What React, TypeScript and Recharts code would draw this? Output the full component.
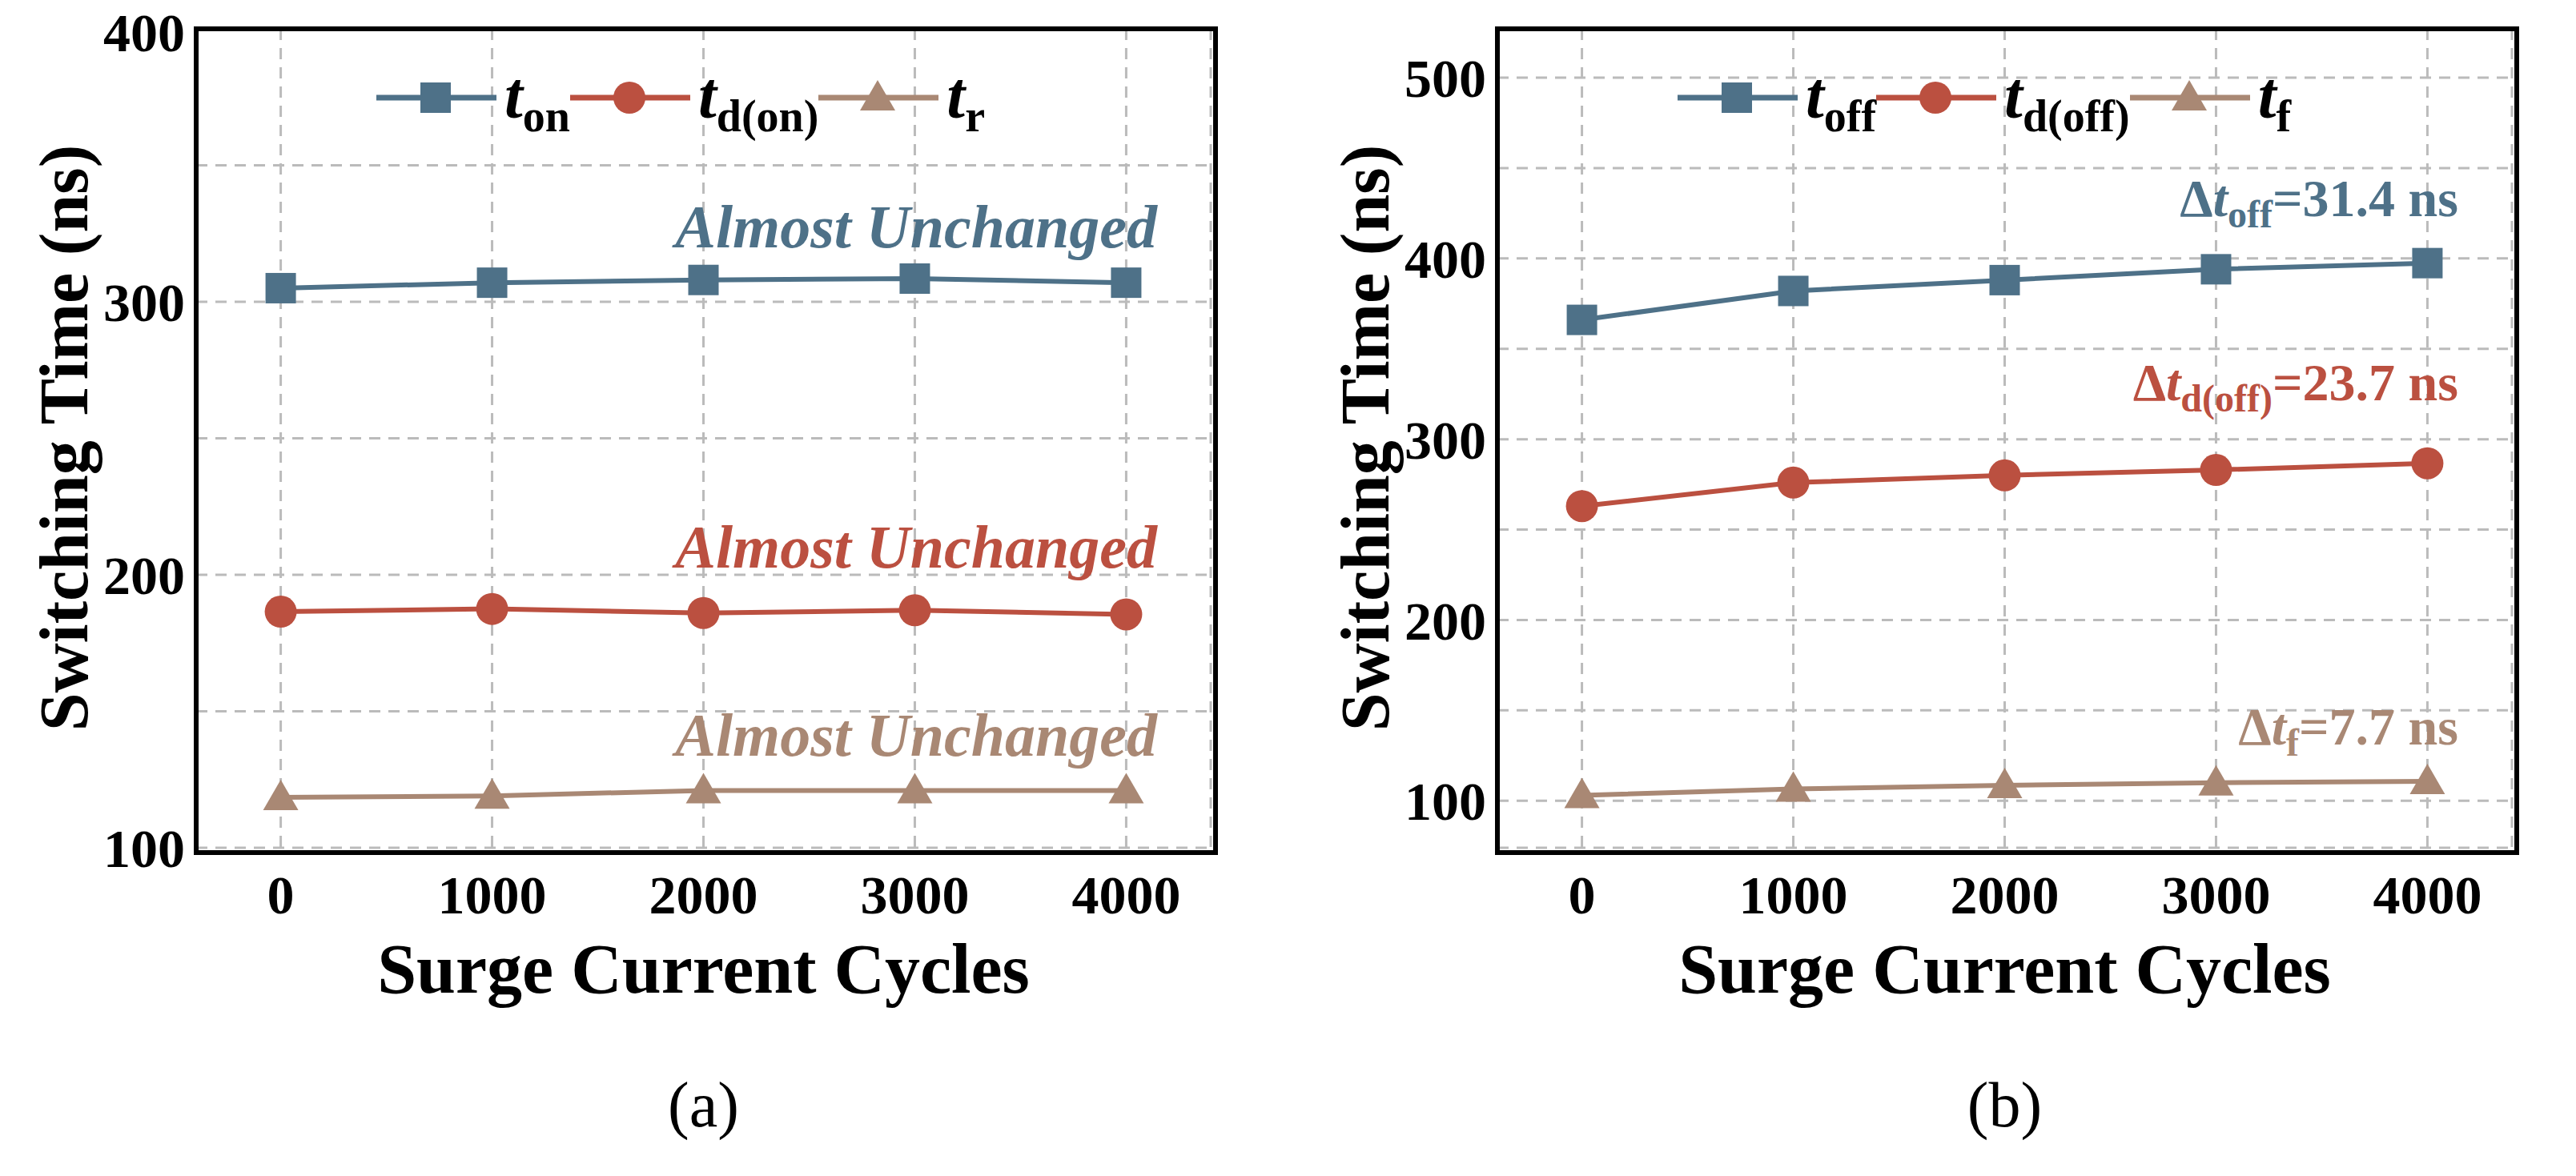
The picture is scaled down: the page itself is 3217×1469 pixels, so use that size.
import React from "react";
import { LineChart, Line, XAxis, YAxis, CartesianGrid } from "recharts";

const cycles = [0, 1000, 2000, 3000, 4000];
const tOn = [305, 307, 308, 308.5, 307];
const tdOn = [186.5, 187.5, 186, 187, 185.5];
const tR = [118.5, 119, 121, 121, 121];
const tOff = [366, 382, 388, 394, 397.4];
const tdOff = [263, 276, 280, 283, 286.7];
const tF = [103, 106.5, 108.5, 110, 110.7];
const leftTicks = [100, 150, 200, 250, 300, 350, 400];
const rightTicks = [100, 150, 200, 250, 300, 350, 400, 450, 500];

const BLUE = "#4e7188";
const RED = "#bb5040";
const TAN = "#a98874";
const FONT = "'Liberation Serif', 'Times New Roman', serif";

const rowsA = cycles.map((c, i) => ({ c, a: tOn[i], b: tdOn[i], d: tR[i] }));
const rowsB = cycles.map((c, i) => ({ c, a: tOff[i], b: tdOff[i], d: tF[i] }));

const Square = (p: any) => (
  <rect x={p.cx - 19} y={p.cy - 19} width={38} height={38} fill={BLUE} />
);
const Circle = (p: any) => <circle cx={p.cx} cy={p.cy} r={20} fill={RED} />;
const Tri = (p: any) => (
  <path d={`M${p.cx},${p.cy - 22} L${p.cx + 22},${p.cy + 16} L${p.cx - 22},${p.cy + 16} Z`} fill={TAN} />
);

const tickStyle = { fontSize: 68, fontWeight: 700, fill: "#000", fontFamily: FONT };

function Legend({ names }: { names: [string, string][] }) {
  const items = [
    { color: BLUE, m: <rect x={55} y={11} width={38} height={38} fill={BLUE} /> },
    { color: RED, m: <circle cx={74} cy={30} r={20} fill={RED} /> },
    { color: TAN, m: <path d="M74,8 L96,46 L52,46 Z" fill={TAN} /> },
  ];
  return (
    <div style={{ display: "flex", alignItems: "flex-start", fontFamily: FONT, fontWeight: 700 }}>
      {items.map((it, i) => (
        <div key={i} style={{ display: "flex", alignItems: "flex-start" }}>
          <svg width={150} height={60} style={{ marginTop: 12 }}>
            <line x1={0} y1={30} x2={150} y2={30} stroke={it.color} strokeWidth={7} />
            {it.m}
          </svg>
          <span style={{ fontSize: 82, lineHeight: "80px", marginLeft: 10, marginRight: 0 }}>
            <i>{names[i][0]}</i>
            <sub style={{ fontSize: 56 }}>{names[i][1]}</sub>
          </span>
        </div>
      ))}
    </div>
  );
}

function Panel({ rows, domain, ticks, yw, width, legend, notes, tag }: any) {
  const off = yw - 245;
  return (
    <div style={{ position: "relative", width, height: 1469 }}>
      <LineChart width={width} height={1469} data={rows} margin={{ top: 36, right: width - 1512 - off, left: 0, bottom: 0 }}>
        <CartesianGrid stroke="#bbbbbb" strokeDasharray="14 10" strokeWidth={3} />
        <XAxis dataKey="c" type="number" domain={[-400, 4400]} ticks={cycles} height={410}
          tick={tickStyle} tickLine={false} axisLine={false} tickMargin={28} />
        <YAxis type="number" domain={domain} ticks={ticks} width={yw} allowDataOverflow
          tick={tickStyle} tickFormatter={(v: number) => (v % 100 === 0 ? String(v) : "")}
          tickLine={false} axisLine={false} tickMargin={8} />
        <Line dataKey="a" stroke={BLUE} strokeWidth={6} dot={<Square />} isAnimationActive={false} />
        <Line dataKey="b" stroke={RED} strokeWidth={6} dot={<Circle />} isAnimationActive={false} />
        <Line dataKey="d" stroke={TAN} strokeWidth={6} dot={<Tri />} isAnimationActive={false} />
      </LineChart>
      <div style={{ position: "absolute", left: yw - 3, top: 33, width: 1267, height: 1023, border: "6px solid #000", pointerEvents: "none" }} />
      <div style={{ position: "absolute", left: 80 + off, top: 547, width: 0, height: 0 }}>
        <div style={{ position: "absolute", transform: "translate(-50%,-50%) rotate(-90deg)", whiteSpace: "nowrap",
          fontFamily: FONT, fontWeight: 700, fontSize: 86 }}>Switching Time (ns)</div>
      </div>
      <div style={{ position: "absolute", left: yw, width: 1267, top: 1160, textAlign: "center", fontFamily: FONT, fontWeight: 700, fontSize: 88 }}>
        Surge Current Cycles
      </div>
      <div style={{ position: "absolute", left: yw, width: 1267, top: 1335, textAlign: "center", fontFamily: FONT, fontSize: 80 }}>
        {tag}
      </div>
      <div style={{ position: "absolute", left: yw + 225, top: 80 }}>
        <Legend names={legend} />
      </div>
      {notes.map((n: any, i: number) => (
        <div key={i} style={{ position: "absolute", right: width - 1445 - off, top: n.top, color: n.color,
          fontFamily: FONT, fontWeight: 700, fontStyle: n.italic ? "italic" : "normal", fontSize: n.size, whiteSpace: "nowrap" }}>
          {n.content}
        </div>
      ))}
    </div>
  );
}

export default function App() {
  React.useEffect(() => { document.body.style.margin = "0"; }, []);
  const notesA = [
    { top: 240, color: BLUE, italic: true, size: 76, content: "Almost Unchanged" },
    { top: 640, color: RED, italic: true, size: 76, content: "Almost Unchanged" },
    { top: 875, color: TAN, italic: true, size: 76, content: "Almost Unchanged" },
  ];
  const notesB = [
    { top: 210, color: BLUE, size: 66, content: <span>Δ<i>t</i><sub style={{ fontSize: 48 }}>off</sub>=31.4 ns</span> },
    { top: 440, color: RED, size: 66, content: <span>Δ<i>t</i><sub style={{ fontSize: 48 }}>d(off)</sub>=23.7 ns</span> },
    { top: 870, color: TAN, size: 66, content: <span>Δ<i>t</i><sub style={{ fontSize: 48 }}>f</sub>=7.7 ns</span> },
  ];
  return (
    <div style={{ display: "flex", width: 3217, height: 1469, background: "#fff" }}>
      <Panel rows={rowsA} domain={[100, 400]} ticks={leftTicks} yw={245} width={1608}
        legend={[["t", "on"], ["t", "d(on)"], ["t", "r"]]} notes={notesA} tag="(a)" />
      <Panel rows={rowsB} domain={[74, 527]} ticks={rightTicks} yw={262} width={1609}
        legend={[["t", "off"], ["t", "d(off)"], ["t", "f"]]} notes={notesB} tag="(b)" />
    </div>
  );
}
